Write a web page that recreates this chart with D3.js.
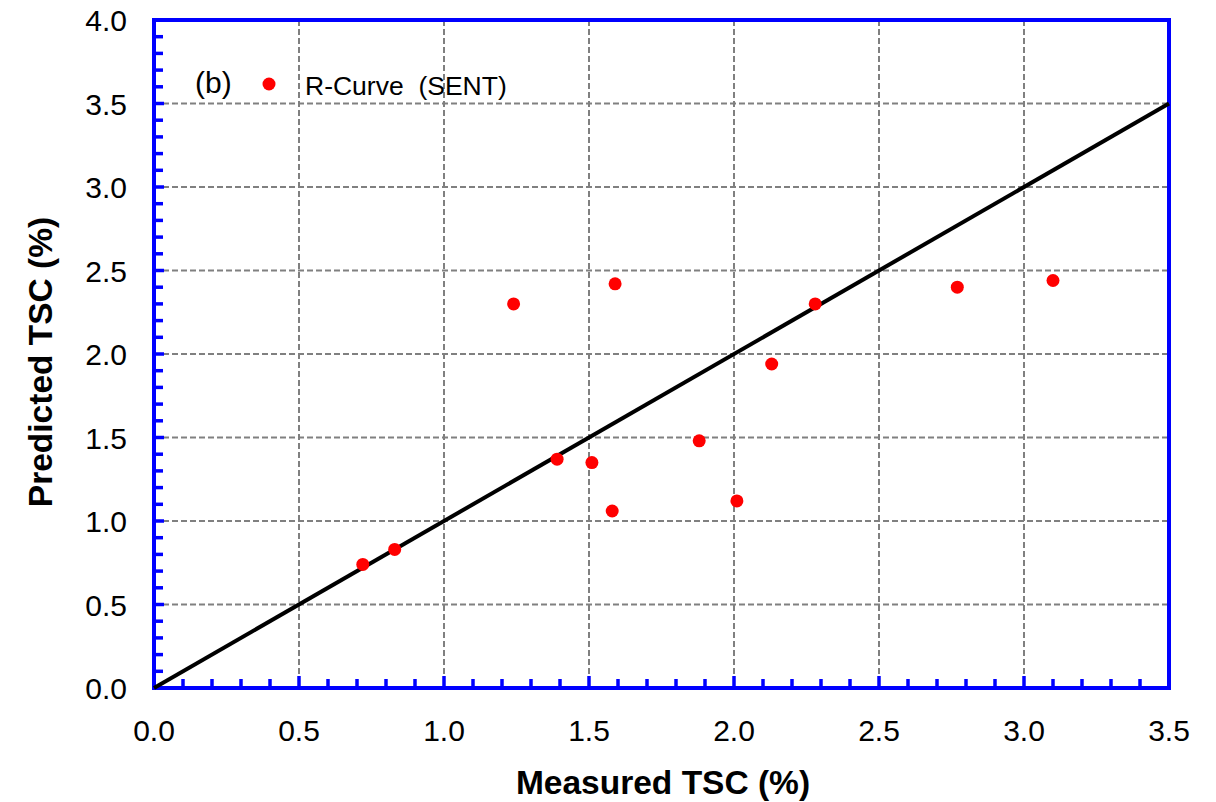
<!DOCTYPE html>
<html>
<head>
    <script src="https://d3js.org/d3.v7.min.js"></script>
    <style>
        body { margin: 0; background: #fff; }
        svg { font-family: "Liberation Sans", Arial, sans-serif; }
        .grid line { stroke: #808080; stroke-width: 2px; stroke-dasharray: 6,3; }
        .tick-label { font-size: 30px; fill: #000; }
        .axis-title { font-size: 33.5px; font-weight: bold; fill: #000; }
    </style>
</head>
<body>
    <svg width="1216" height="802"></svg>
    <script>
        // data
        var measured  = [0.72, 0.83, 1.24, 1.39, 1.51, 1.59, 1.58, 1.88, 2.01, 2.13, 2.28, 2.77, 3.10];
        var predicted = [0.74, 0.83, 2.30, 1.37, 1.35, 2.42, 1.06, 1.48, 1.12, 1.94, 2.30, 2.40, 2.44];
        var xTicks = [0.0, 0.5, 1.0, 1.5, 2.0, 2.5, 3.0, 3.5];
        var yTicks = [0.0, 0.5, 1.0, 1.5, 2.0, 2.5, 3.0, 3.5, 4.0];
        var seriesName = "R-Curve  (SENT)";
        var panelLabel = "(b)";

        var svg = d3.select("svg"),
            plotL = 154, plotR = 1169, plotT = 20, plotB = 688;

        var x = d3.scaleLinear().domain([0, 3.5]).range([plotL, plotR]);
        var y = d3.scaleLinear().domain([0, 4.0]).range([plotB, plotT]);

        // grid
        var grid = svg.append("g").attr("class", "grid");
        grid.selectAll(".vx")
            .data(xTicks.filter(function(d) { return d > 0 && d < 3.5; }))
            .enter().append("line")
            .attr("x1", function(d) { return x(d); })
            .attr("x2", function(d) { return x(d); })
            .attr("y1", plotT).attr("y2", plotB);
        grid.selectAll(".hy")
            .data(yTicks.filter(function(d) { return d > 0 && d < 4.0; }))
            .enter().append("line")
            .attr("y1", function(d) { return y(d); })
            .attr("y2", function(d) { return y(d); })
            .attr("x1", plotL).attr("x2", plotR);

        // minor / major ticks on bottom and left, pointing inward
        var xMinor = d3.range(1, 35).map(function(i) { return i / 10; });
        var yMinor = d3.range(1, 40).map(function(i) { return i / 10; });
        var isMajor = function(d) { return Math.abs(d * 2 - Math.round(d * 2)) < 1e-6; };

        svg.append("g").selectAll("line")
            .data(xMinor)
            .enter().append("line")
            .attr("x1", function(d) { return x(d); })
            .attr("x2", function(d) { return x(d); })
            .attr("y1", plotB)
            .attr("y2", function(d) { return plotB - (isMajor(d) ? 12 : 9); })
            .attr("stroke", "#0000ff")
            .attr("stroke-width", 3.5);

        svg.append("g").selectAll("line")
            .data(yMinor)
            .enter().append("line")
            .attr("y1", function(d) { return y(d); })
            .attr("y2", function(d) { return y(d); })
            .attr("x1", plotL)
            .attr("x2", function(d) { return plotL + (isMajor(d) ? 10 : 9); })
            .attr("stroke", "#0000ff")
            .attr("stroke-width", 3.5);

        // frame
        svg.append("rect")
            .attr("x", plotL).attr("y", plotT)
            .attr("width", plotR - plotL).attr("height", plotB - plotT)
            .attr("fill", "none")
            .attr("stroke", "#0000ff")
            .attr("stroke-width", 4);

        // 1:1 line
        svg.append("line")
            .attr("x1", x(0)).attr("y1", y(0))
            .attr("x2", x(3.5)).attr("y2", y(3.5))
            .attr("stroke", "#000")
            .attr("stroke-width", 4);

        // points
        svg.append("g").selectAll("circle")
            .data(d3.zip(measured, predicted))
            .enter().append("circle")
            .attr("cx", function(d) { return x(d[0]); })
            .attr("cy", function(d) { return y(d[1]); })
            .attr("r", 6.5)
            .attr("fill", "#ff0000");

        // tick labels
        svg.append("g").selectAll("text")
            .data(xTicks)
            .enter().append("text")
            .attr("class", "tick-label")
            .attr("x", function(d) { return x(d); })
            .attr("y", 741)
            .attr("text-anchor", "middle")
            .text(function(d) { return d.toFixed(1); });

        svg.append("g").selectAll("text")
            .data(yTicks)
            .enter().append("text")
            .attr("class", "tick-label")
            .attr("x", 127)
            .attr("y", function(d) { return y(d) + 11; })
            .attr("text-anchor", "end")
            .text(function(d) { return d.toFixed(1); });

        // axis titles
        svg.append("text")
            .attr("class", "axis-title")
            .attr("x", 663)
            .attr("y", 794)
            .attr("text-anchor", "middle")
            .text("Measured TSC (%)");

        svg.append("text")
            .attr("class", "axis-title")
            .attr("transform", "translate(52,362) rotate(-90)")
            .attr("text-anchor", "middle")
            .text("Predicted TSC (%)");

        // legend
        svg.append("text")
            .attr("x", 195).attr("y", 93)
            .style("font-size", "30px")
            .text(panelLabel);
        svg.append("circle")
            .attr("cx", 269).attr("cy", 84)
            .attr("r", 6.5)
            .attr("fill", "#ff0000");
        svg.append("text")
            .attr("x", 305).attr("y", 95)
            .style("font-size", "26.5px")
            .style("white-space", "pre")
            .text(seriesName);
    </script>
</body>
</html>
